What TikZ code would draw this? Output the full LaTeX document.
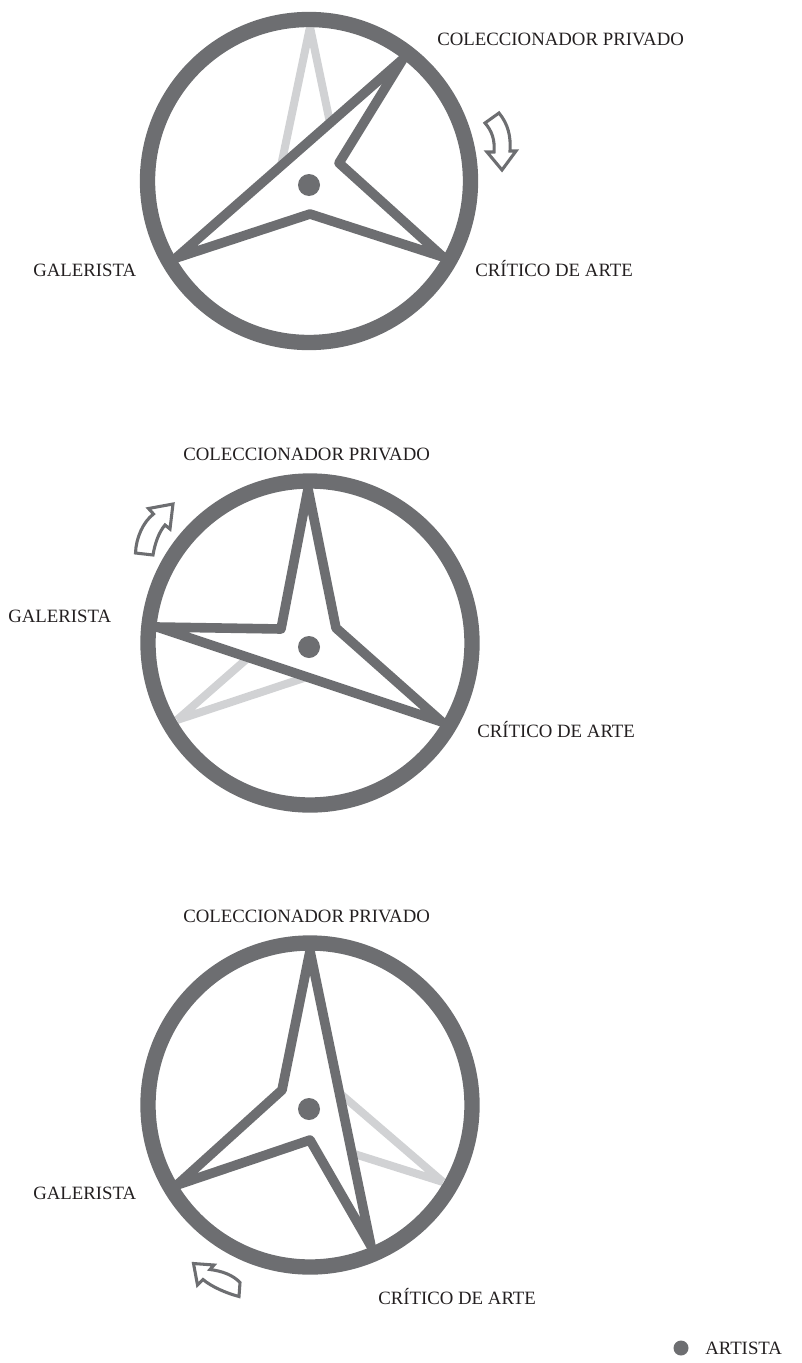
\documentclass[tikz,border=0pt]{standalone}
\usepackage{fontspec}
\setmainfont{Liberation Serif}
\definecolor{ringgray}{RGB}{109,110,113}
\definecolor{ghostgray}{RGB}{209,210,212}
\definecolor{textcol}{RGB}{35,31,32}
\begin{document}
\begin{tikzpicture}[x=0.75pt,y=-0.75pt,
  ring/.style={draw=ringgray,line width=11.5pt},
  starline/.style={draw=ringgray,fill=white,line width=7.2pt,line join=round},
  ghost/.style={draw=ghostgray,line width=6pt},
  dot/.style={fill=ringgray},
  turn/.style={draw=ringgray,fill=white,line width=2.3pt,line join=miter},
  lab/.style={anchor=base west,inner sep=0pt,text=textcol,font=\fontsize{14.1}{16}\selectfont}]
\useasboundingbox (0,0) rectangle (801,1363);

% ---------- first ----------
\coordinate (c1) at (309,181);
\draw[ghost] (310,27) -- (281,166) (310,27) -- (339,166);
\draw[starline] (176,258) -- (403,59) -- (339,163) -- (443,257) -- (310,214) -- cycle;
\fill[dot] (309,185) circle (11);
\draw[ring] (c1) circle (161.5);
\draw[turn] (485,123) -- (499,113) .. controls (508,124) and (511,136) .. (510,151)
  -- (516,151) -- (502,170) -- (487,152) -- (494,152)
  .. controls (495,140) and (492,131) .. (485,123) -- cycle;
\node[lab] (col1) at (437,46) {COLECCIONADOR PRIVADO};
\node[lab] (gal1) at (33,276) {GALERISTA};
\node[lab] (cri1) at (475,276) {CRÍTICO DE ARTE};

% ---------- second ----------
\coordinate (c2) at (310,643);
\draw[ghost] (177,720) -- (281,629) (177,720) -- (310,676);
\draw[starline] (157,627) -- (281,629) -- (308,489) -- (336,628) -- (442,722) -- cycle;
\fill[dot] (309,647) circle (11);
\draw[ring] (c2) circle (162);
\draw[turn] (173,504) -- (148.5,508.5) -- (153.5,514)
  .. controls (143,522) and (136,538) .. (135.5,553)
  -- (153,555) .. controls (155,543) and (159,532) .. (165,525)
  -- (170,529) -- cycle;
\node[lab] (col2) at (183,460) {COLECCIONADOR PRIVADO};
\node[lab] (gal2) at (8,622) {GALERISTA};
\node[lab] (cri2) at (477,737) {CRÍTICO DE ARTE};

% ---------- third ----------
\coordinate (c3) at (310,1105);
\draw[ghost] (443,1182) -- (336,1090) (443,1182) -- (310,1140);
\draw[starline] (310,951) -- (282,1090) -- (177,1185) -- (310,1140) -- (371,1246) -- cycle;
\fill[dot] (309,1109) circle (11);
\draw[ring] (c3) circle (162);
\draw[turn] (193.5,1263.5) -- (214,1265) -- (210,1269.5)
  .. controls (222,1271) and (233,1275) .. (240,1282.5)
  -- (239,1296.5) .. controls (226,1293) and (212,1287) .. (203,1279.5)
  -- (197.5,1285) -- cycle;
\node[lab] (col3) at (183,922) {COLECCIONADOR PRIVADO};
\node[lab] (gal3) at (33,1199) {GALERISTA};
\node[lab] (cri3) at (378,1304) {CRÍTICO DE ARTE};

% ---------- legend ----------
\fill[dot] (681,1348) circle (7.5);
\node[lab] (art) at (705,1354) {ARTISTA};
\end{tikzpicture}
\end{document}
